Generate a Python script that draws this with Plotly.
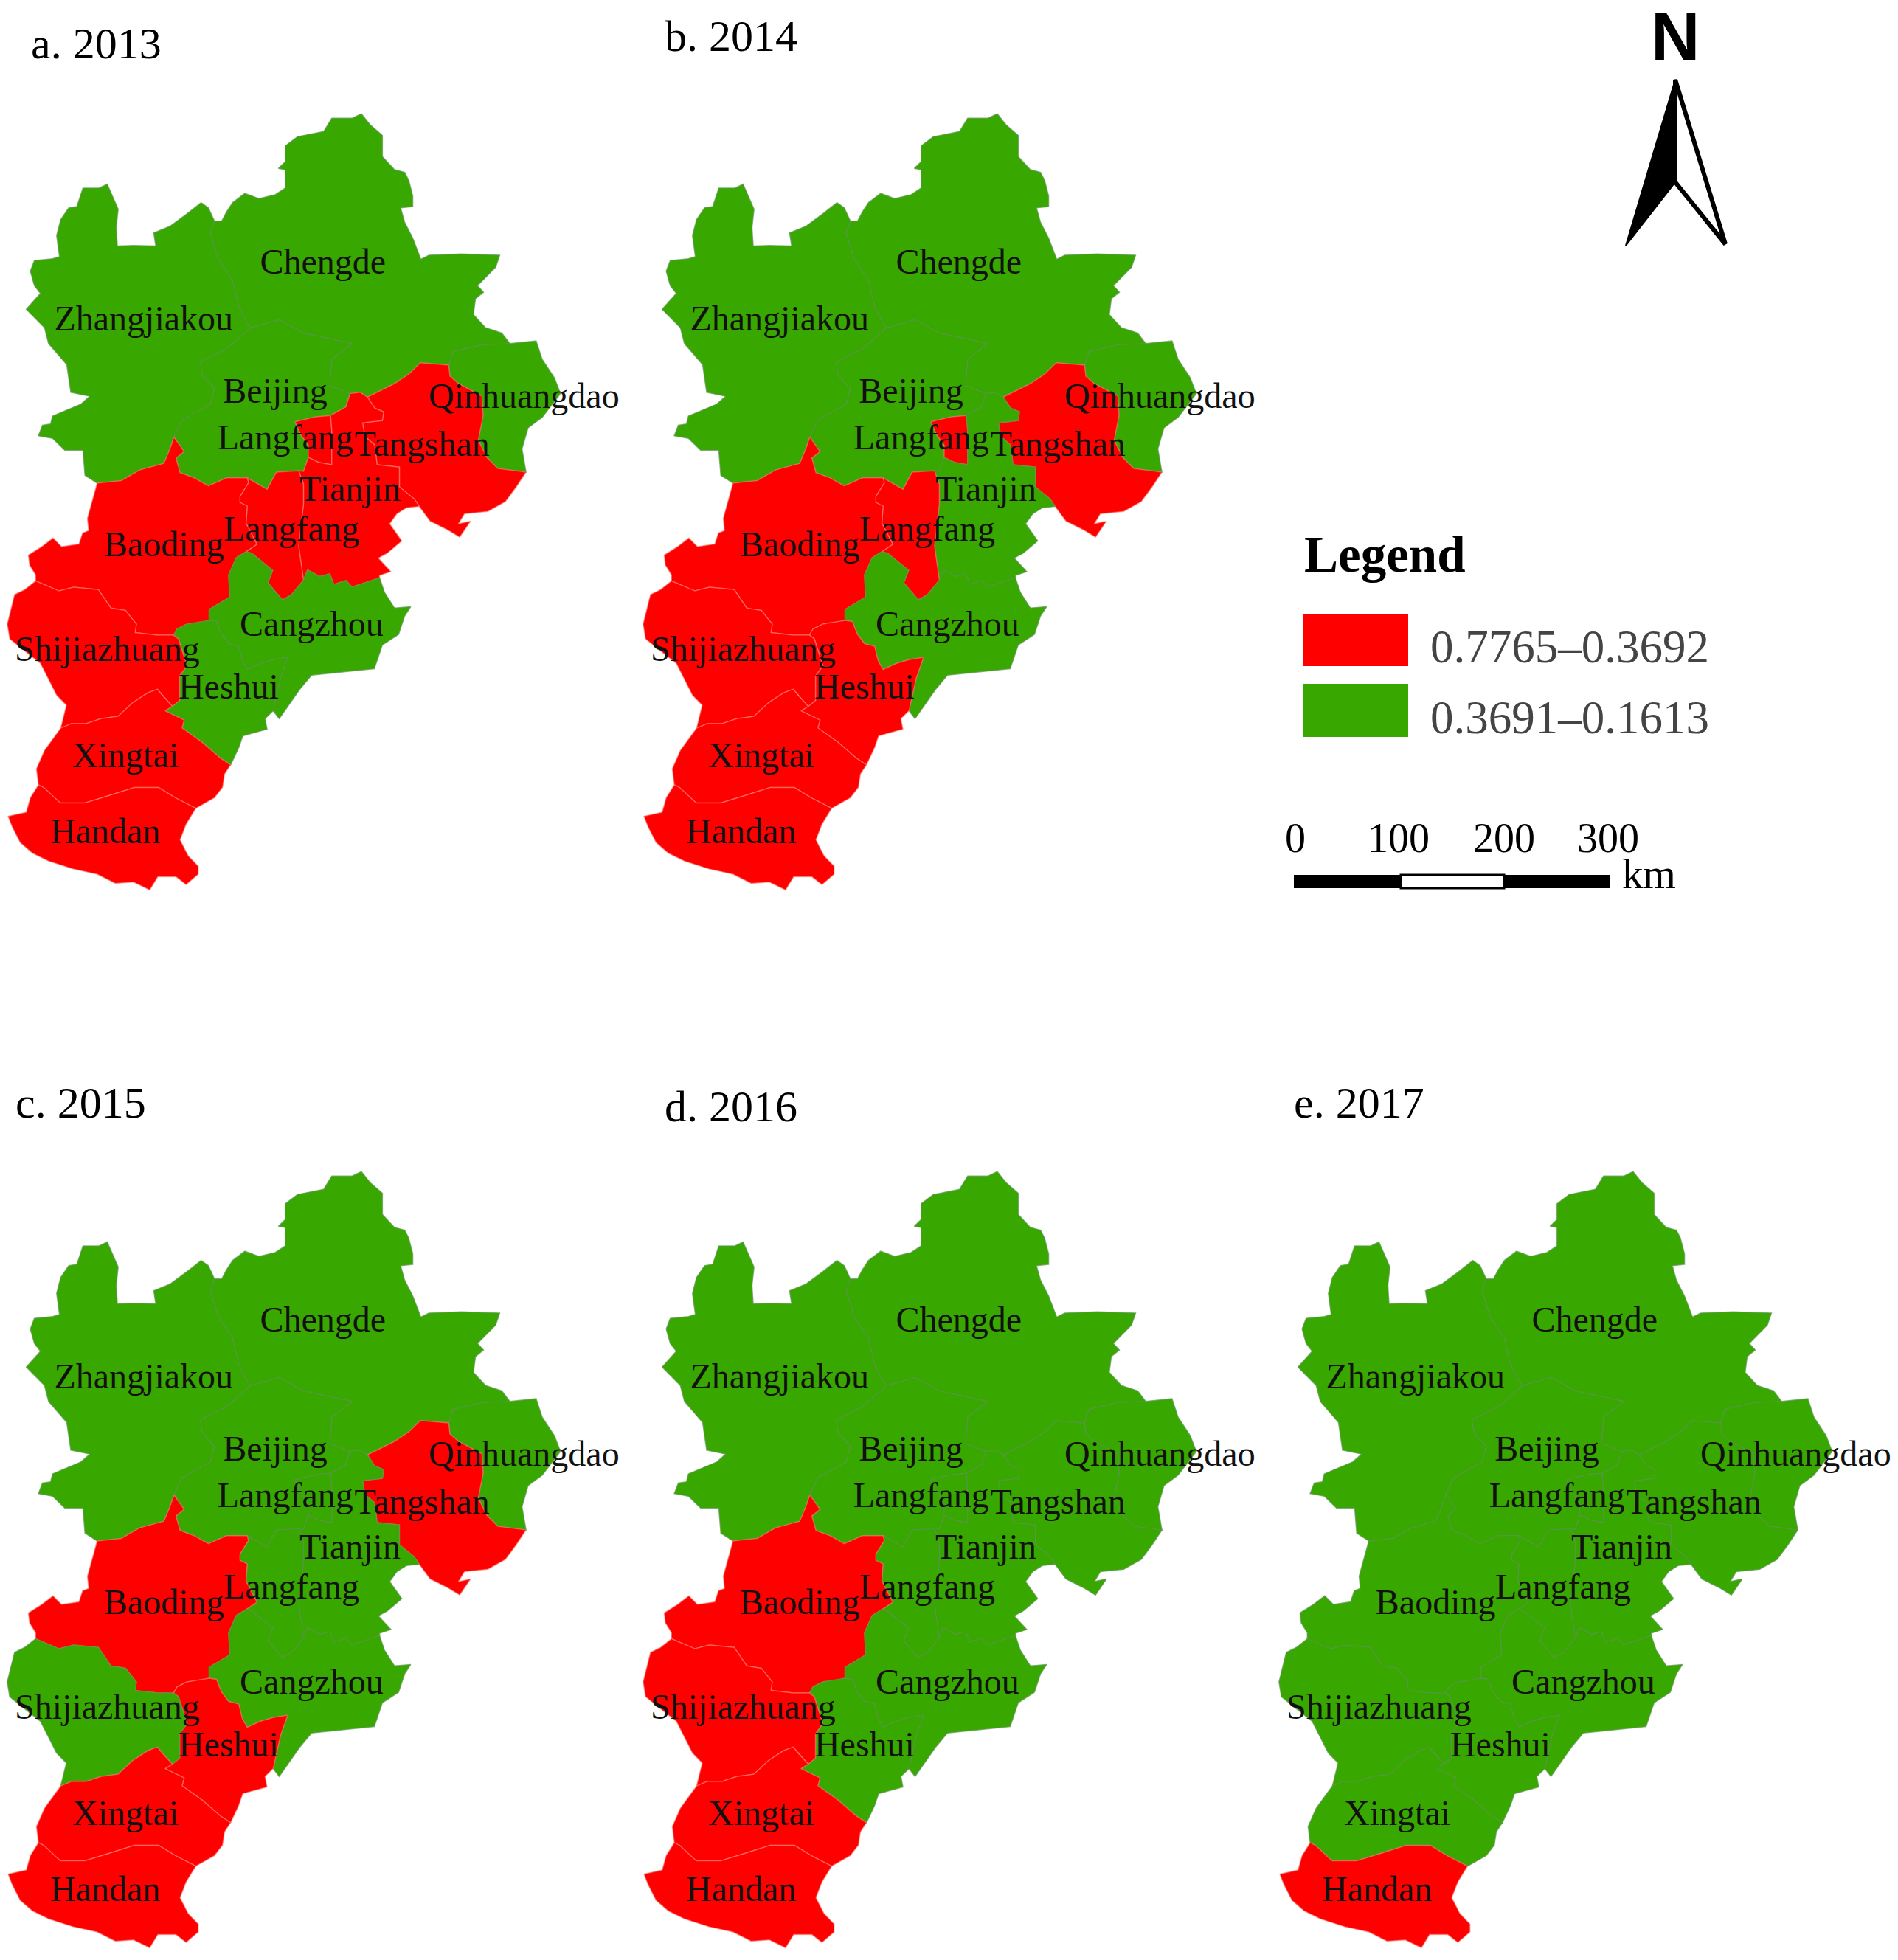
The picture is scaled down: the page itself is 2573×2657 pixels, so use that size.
import plotly.graph_objects as go

W, H = 2573, 2657
RED = "#ff0000"
GREEN = "#38a800"
RED_EDGE = "rgba(250,130,120,0.55)"
GREEN_EDGE = "rgba(85,150,70,0.7)"

# city outlines, map units (x right, y down)
ZHANGJIAKOU = [(530,475),(520,520),(540,620),(575,700),(590,800),(610,860),(620,880),(560,960),(495,1010),(500,1060),(530,1110),(520,1170),(450,1230),(430,1295),(420,1340),(405,1395),(345,1420),(300,1460),(240,1470),(210,1440),(205,1345),(160,1345),(130,1300),(95,1290),(105,1250),(125,1245),(130,1215),(200,1170),(222,1140),(175,1125),(165,1020),(120,940),(110,880),(65,810),(100,750),(85,720),(75,665),(85,625),(130,618),(147,610),(140,530),(150,470),(170,425),(190,420),(205,350),(245,350),(265,335),(280,385),(292,430),(287,500),(290,570),(330,568),(385,570),(380,520),(420,495),(460,450),(497,405),(515,425),(530,475)]
CHENGDE = [(530,475),(548,475),(560,440),(575,405),(605,370),(640,390),(680,375),(705,350),(705,280),(688,275),(705,250),(705,190),(735,155),(800,135),(820,85),(870,85),(893,68),(915,110),(945,150),(945,230),(975,280),(1000,290),(1010,320),(1020,380),(1020,420),(990,425),(1000,480),(1020,540),(1040,620),(1060,605),(1140,600),(1235,605),(1225,650),(1180,720),(1195,745),(1175,770),(1170,830),(1200,880),(1240,900),(1260,940),(1190,945),(1120,970),(1109,1022),(1039,1013),(1011,1055),(975,1092),(908,1143),(890,1125),(865,1130),(815,1100),(820,1000),(870,940),(750,900),(690,850),(620,880),(610,860),(590,800),(575,700),(540,620),(520,520),(530,475)]
BEIJING = [(620,880),(690,850),(750,900),(870,940),(820,1000),(815,1100),(865,1130),(855,1180),(817,1213),(780,1218),(729,1237),(744,1288),(762,1325),(762,1372),(750,1425),(683,1428),(660,1493),(611,1450),(560,1450),(515,1480),(480,1450),(445,1430),(435,1375),(455,1350),(445,1330),(430,1295),(450,1230),(520,1170),(530,1110),(500,1060),(495,1010),(560,960),(620,880)]
QINHUANGDAO = [(1260,940),(1325,930),(1340,1000),(1370,1070),(1385,1130),(1340,1220),(1305,1260),(1290,1340),(1300,1428),(1230,1414),(1203,1372),(1182,1307),(1194,1213),(1191,1139),(1133,1092),(1112,1064),(1109,1022),(1120,970),(1190,945),(1260,940)]
TANGSHAN = [(908,1143),(975,1092),(1011,1055),(1039,1013),(1109,1022),(1112,1064),(1133,1092),(1191,1139),(1194,1213),(1182,1307),(1203,1372),(1230,1414),(1300,1428),(1276,1484),(1249,1540),(1206,1577),(1148,1586),(1133,1624),(1163,1614),(1136,1675),(1106,1647),(1063,1614),(1036,1558),(1024,1530),(987,1484),(987,1409),(932,1400),(926,1325),(902,1293),(896,1241),(945,1232),(948,1199),(926,1185),(908,1143)]
LANGFANG_N = [(729,1237),(780,1218),(817,1213),(820,1269),(820,1400),(787,1391),(762,1372),(762,1325),(744,1288),(729,1237)]
TIANJIN = [(817,1213),(855,1180),(865,1130),(890,1125),(908,1143),(926,1185),(948,1199),(945,1232),(896,1241),(902,1293),(926,1325),(932,1400),(987,1409),(987,1484),(1024,1530),(1036,1558),(1005,1563),(981,1586),(963,1624),(993,1689),(957,1736),(935,1754),(966,1806),(938,1820),(938,1829),(870,1864),(855,1839),(825,1854),(815,1814),(790,1824),(760,1799),(750,1838),(738,1708),(750,1549),(750,1474),(738,1423),(750,1425),(762,1372),(787,1391),(820,1400),(820,1269),(817,1213)]
LANGFANG_S = [(611,1450),(660,1493),(683,1428),(738,1423),(750,1474),(750,1549),(738,1708),(750,1838),(720,1894),(698,1913),(662,1848),(674,1801),(622,1736),(608,1730),(635,1702),(608,1622),(611,1557),(593,1543),(593,1520),(614,1468),(611,1450)]
BAODING = [(430,1295),(445,1330),(455,1350),(435,1375),(445,1430),(480,1450),(515,1480),(560,1450),(611,1450),(614,1468),(593,1520),(593,1543),(611,1557),(608,1622),(635,1702),(608,1730),(584,1753),(565,1818),(568,1902),(517,1949),(517,1991),(505,1995),(462,2005),(438,2023),(429,2047),(389,2047),(334,2037),(337,2005),(310,1953),(274,1944),(243,1874),(182,1865),(146,1879),(88,1841),(88,1818),(73,1781),(70,1743),(103,1711),(131,1678),(152,1711),(195,1701),(204,1659),(219,1650),(216,1604),(228,1538),(240,1470),(300,1460),(345,1420),(405,1395),(420,1340),(430,1295)]
CANGZHOU = [(608,1730),(622,1736),(674,1801),(662,1848),(698,1913),(720,1894),(750,1838),(760,1799),(790,1824),(815,1814),(825,1854),(855,1839),(870,1864),(938,1829),(950,1884),(975,1944),(1015,1939),(1000,1974),(985,2044),(945,2084),(925,2174),(860,2184),(770,2199),(740,2254),(690,2364),(675,2334),(681,2294),(693,2210),(711,2131),(675,2140),(644,2154),(611,2177),(599,2145),(590,2089),(565,2079),(547,2042),(535,1995),(517,1991),(517,1949),(568,1902),(565,1818),(584,1753),(608,1730)]
HESHUI = [(517,1991),(535,1995),(547,2042),(565,2079),(590,2089),(599,2145),(611,2177),(644,2154),(675,2140),(711,2131),(693,2210),(681,2294),(675,2334),(655,2364),(660,2404),(600,2429),(590,2474),(570,2539),(545,2514),(500,2454),(450,2399),(455,2369),(408,2334),(426,2317),(444,2294),(444,2201),(462,2163),(453,2117),(441,2061),(429,2047),(438,2023),(462,2005),(505,1995),(517,1991)]
SHIJIAZHUANG = [(88,1841),(146,1879),(182,1865),(243,1874),(274,1944),(310,1953),(337,2005),(334,2037),(389,2047),(429,2047),(441,2061),(453,2117),(462,2163),(444,2201),(444,2294),(426,2317),(401,2275),(389,2252),(365,2266),(328,2303),(292,2355),(249,2364),(213,2383),(176,2383),(150,2400),(164,2313),(140,2275),(122,2219),(100,2154),(61,2107),(24,2061),(18,2005),(27,1949),(36,1893),(61,1874),(88,1841)]
XINGTAI = [(150,2400),(176,2383),(213,2383),(249,2364),(292,2355),(328,2303),(365,2266),(389,2252),(401,2275),(426,2317),(408,2334),(455,2369),(450,2399),(500,2454),(545,2514),(570,2539),(555,2574),(550,2624),(530,2664),(484,2704),(433,2664),(392,2625),(332,2625),(271,2655),(210,2684),(149,2684),(108,2625),(95,2615),(90,2554),(110,2484),(150,2400)]
HANDAN = [(95,2615),(108,2625),(149,2684),(210,2684),(271,2655),(332,2625),(392,2625),(433,2664),(484,2704),(460,2764),(445,2824),(465,2884),(490,2924),(490,2954),(460,2994),(435,2964),(390,2964),(370,3014),(330,2984),(285,2989),(240,2954),(180,2934),(120,2904),(80,2874),(50,2834),(30,2774),(20,2734),(65,2719),(75,2664),(95,2615)]

CITIES = {"Zhangjiakou": ZHANGJIAKOU, "Chengde": CHENGDE, "Beijing": BEIJING, "Qinhuangdao": QINHUANGDAO,
          "Tangshan": TANGSHAN, "Langfang N": LANGFANG_N, "Tianjin": TIANJIN, "Langfang S": LANGFANG_S,
          "Baoding": BAODING, "Cangzhou": CANGZHOU, "Heshui": HESHUI, "Shijiazhuang": SHIJIAZHUANG,
          "Xingtai": XINGTAI, "Handan": HANDAN}

LABELS = ["Chengde", "Zhangjiakou", "Beijing", "Langfang", "Tangshan", "Qinhuangdao", "Tianjin",
          "Baoding", "Langfang", "Cangzhou", "Shijiazhuang", "Heshui", "Xingtai", "Handan"]
LABEL_X = [798, 355, 680, 705, 1043, 1295, 865, 405, 720, 770, 265, 565, 310, 260]
LABEL_Y = [642, 857, 1130, 1307, 1334, 1152, 1503, 1714, 1654, 2016, 2112, 2255, 2514, 2803]

YEARS = ["a. 2013", "b. 2014", "c. 2015", "d. 2016", "e. 2017"]
HIGH_2013 = ["Tangshan", "Langfang N", "Tianjin", "Langfang S", "Baoding", "Shijiazhuang", "Xingtai", "Handan"]
HIGH_2014 = ["Tangshan", "Langfang N", "Langfang S", "Baoding", "Shijiazhuang", "Heshui", "Xingtai", "Handan"]
HIGH_2015 = ["Tangshan", "Baoding", "Heshui", "Xingtai", "Handan"]
HIGH_2016 = ["Baoding", "Shijiazhuang", "Xingtai", "Handan"]
HIGH_2017 = ["Handan"]
HIGH = [HIGH_2013, HIGH_2014, HIGH_2015, HIGH_2016, HIGH_2017]

LEGEND_LABELS = ["0.7765–0.3692", "0.3691–0.1613"]
SCALE_TICKS = ["0", "100", "200", "300"]

# panel left/top in page pixels
PANEL_LEFT = [0, 862, 0, 862, 1724]
PANEL_TOP = [130, 130, 1564, 1564, 1564]
TITLE_X = [40, 899, 19, 899, 1752]
TITLE_Y = [59, 49, 1495, 1500, 1495]
PANEL_W, PANEL_H = 845, 1089

fig = go.Figure()
layout_axes = {}

# page axis in pixels for the furniture
layout_axes["xaxis6"] = dict(domain=[0, 1], range=[0, W], visible=False, fixedrange=True)
layout_axes["yaxis6"] = dict(domain=[0, 1], range=[H, 0], visible=False, fixedrange=True)

for i, year in enumerate(YEARS):
    n = i + 1
    sx = "" if n == 1 else str(n)
    layout_axes["xaxis" + sx] = dict(domain=[PANEL_LEFT[i] / W, (PANEL_LEFT[i] + PANEL_W) / W],
                                     range=[0, PANEL_W * 1.823], visible=False, fixedrange=True)
    layout_axes["yaxis" + sx] = dict(domain=[1 - (PANEL_TOP[i] + PANEL_H) / H, 1 - PANEL_TOP[i] / H],
                                     range=[PANEL_H * 2.8, 0], visible=False, fixedrange=True)
    for name, pts in CITIES.items():
        high = name in HIGH[i]
        fig.add_trace(go.Scatter(x=[p[0] for p in pts], y=[p[1] for p in pts], mode="lines", fill="toself",
                                 fillcolor=RED if high else GREEN,
                                 line=dict(color=RED_EDGE if high else GREEN_EDGE, width=1.5),
                                 name=name, xaxis="x" + sx, yaxis="y" + sx, showlegend=False))
    fig.add_trace(go.Scatter(x=LABEL_X, y=LABEL_Y, text=LABELS, mode="text", cliponaxis=False,
                             textfont=dict(family="Liberation Serif", size=48, color="#111111"),
                             xaxis="x" + sx, yaxis="y" + sx, showlegend=False, hoverinfo="skip"))

annots = []
for i, year in enumerate(YEARS):
    annots.append(dict(x=TITLE_X[i], y=TITLE_Y[i], xref="x6", yref="y6", text=year, showarrow=False,
                       xanchor="left", yanchor="middle",
                       font=dict(family="Liberation Serif", size=60, color="black")))
annots.append(dict(x=1766, y=752, xref="x6", yref="y6", text="<b>Legend</b>", showarrow=False, xanchor="left",
                   yanchor="middle", font=dict(family="Liberation Serif", size=69, color="black")))
for label, yy in zip(LEGEND_LABELS, [877, 973]):
    annots.append(dict(x=1937, y=yy, xref="x6", yref="y6", text=label, showarrow=False, xanchor="left",
                       yanchor="middle", font=dict(family="Liberation Serif", size=63, color="#444444")))
for label, xx in zip(SCALE_TICKS, [1756, 1896, 2039, 2180]):
    annots.append(dict(x=xx, y=1136, xref="x6", yref="y6", text=label, showarrow=False, xanchor="center",
                       yanchor="middle", font=dict(family="Liberation Serif", size=56, color="black")))
annots.append(dict(x=2235, y=1184, xref="x6", yref="y6", text="km", showarrow=False, xanchor="center",
                   yanchor="middle", font=dict(family="Liberation Serif", size=57, color="black")))
annots.append(dict(x=2271, y=50, xref="x6", yref="y6", text="<b>N</b>", showarrow=False, xanchor="center",
                   yanchor="middle", font=dict(family="Liberation Sans", size=92, color="black")))


def rect(x0, y0, x1, y1, fill, line="black", lw=0):
    return dict(type="rect", xref="x6", yref="y6", x0=x0, y0=y0, x1=x1, y1=y1, fillcolor=fill,
                line=dict(color=line, width=lw), layer="above")


shapes = [
    rect(1766, 833, 1909, 903, RED),
    rect(1766, 927, 1909, 999, GREEN),
    rect(1754, 1186, 1899, 1204, "black"),
    rect(1899, 1186, 2039, 1204, "white", "black", 3),
    rect(2039, 1186, 2183, 1204, "black"),
    # north arrow
    dict(type="path", xref="x6", yref="y6", path="M2271,108 L2271,247 L2204,333 Z", fillcolor="black",
         line=dict(color="black", width=2), layer="above"),
    dict(type="path", xref="x6", yref="y6", path="M2271,108 L2339,331 L2271,247 Z", fillcolor="white",
         line=dict(color="black", width=6), layer="above"),
]

fig.update_layout(width=W, height=H, margin=dict(l=0, r=0, t=0, b=0), paper_bgcolor="white",
                  plot_bgcolor="rgba(0,0,0,0)", showlegend=False, annotations=annots, shapes=shapes,
                  **layout_axes)
# anchor each y axis to its x axis
for k in range(1, 7):
    sx = "" if k == 1 else str(k)
    fig.layout["xaxis" + sx].anchor = "y" + sx
    fig.layout["yaxis" + sx].anchor = "x" + sx

# browser default body margin would push everything 8px
fig.write_html("out.html", config={"displayModeBar": False}, post_script="document.body.style.margin='0';")
